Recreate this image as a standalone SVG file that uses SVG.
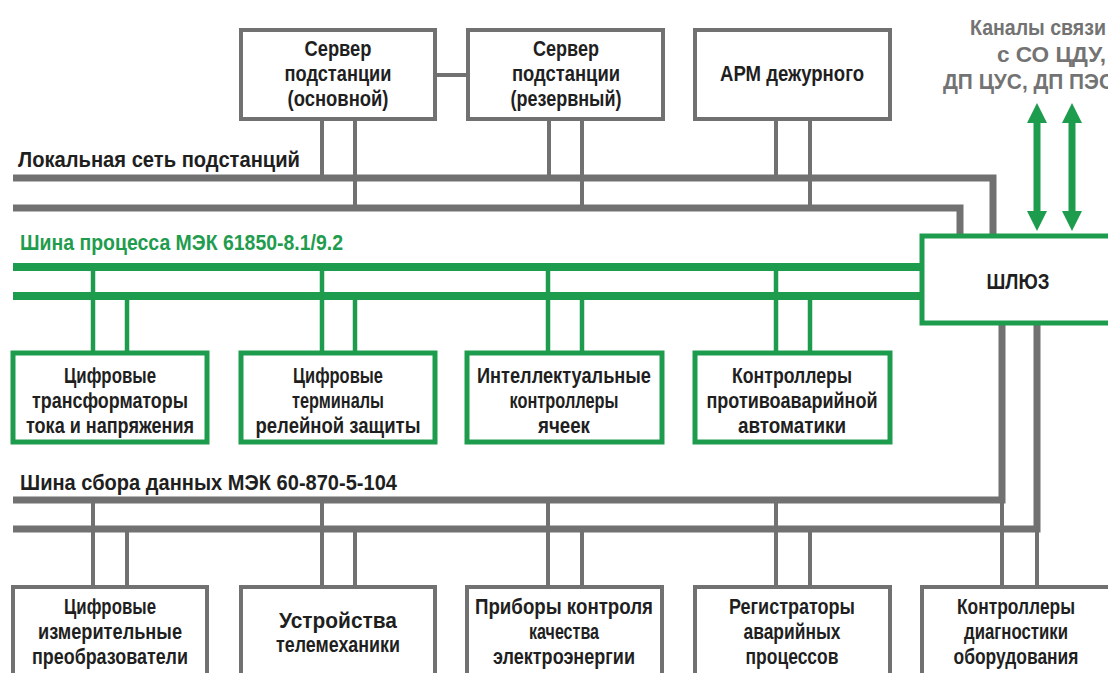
<svg xmlns="http://www.w3.org/2000/svg" xmlns:xlink="http://www.w3.org/1999/xlink" width="1108" height="673" viewBox="0 0 1108 673">
  <style>
    .box-g { fill: #ffffff; stroke: #717171; stroke-width: 4; }
    .box-n { fill: #ffffff; stroke: #1e9c4d; stroke-width: 5; }
    .bus-g { fill: none; stroke: #717171; stroke-width: 7; stroke-linejoin: miter; }
    .bus-n { fill: none; stroke: #1e9c4d; stroke-width: 8; }
    .tap-g { stroke: #717171; stroke-width: 4; }
    .tap-n { stroke: #1e9c4d; stroke-width: 4.5; }
    text { font-family: "Liberation Sans", Arial, sans-serif; font-weight: bold; }
    .t { font-size: 22.5px; fill: #1f1f1f; text-anchor: middle; }
    .lbl { font-size: 22px; fill: #1f1f1f; }
    .lbl-n { font-size: 22px; fill: #1f9c4e; }
    .ch { font-size: 22px; fill: #737373; text-anchor: end; }
  </style>
  <defs>
    <!-- double-headed channel arrow, centred on x = 0 -->
    <path id="dbl-arrow" d="M0,103 L10,123 L3.5,123 L3.5,211 L10,211 L0,231 L-10,211 L-3.5,211 L-3.5,123 L-10,123 Z" fill="#1e9c4d"/>
  </defs>
  <rect width="1108" height="673" fill="#ffffff"/>

  <!-- buses and taps -->
  <g id="connectors">
    <!-- station LAN -->
    <polyline class="bus-g" points="13,178 993,178 993,236"/>
    <polyline class="bus-g" points="13,208 960,208 960,236"/>
    <!-- process bus -->
    <line class="bus-n" x1="13" y1="267" x2="922" y2="267"/>
    <line class="bus-n" x1="13" y1="296" x2="922" y2="296"/>
    <!-- data acquisition bus -->
    <polyline class="bus-g" points="13,500 1002,500 1002,323"/>
    <polyline class="bus-g" points="13,529 1037,529 1037,323"/>

    <!-- server link -->
    <line class="tap-g" x1="435" y1="75" x2="468" y2="75"/>

    <!-- top row taps -->
    <line class="tap-g" x1="322" y1="119" x2="322" y2="178"/>
    <line class="tap-g" x1="355" y1="119" x2="355" y2="208"/>
    <line class="tap-g" x1="549" y1="119" x2="549" y2="178"/>
    <line class="tap-g" x1="582" y1="119" x2="582" y2="208"/>
    <line class="tap-g" x1="776" y1="119" x2="776" y2="178"/>
    <line class="tap-g" x1="810" y1="119" x2="810" y2="208"/>

    <!-- process bus taps -->
    <line class="tap-n" x1="93" y1="267" x2="93" y2="353"/>
    <line class="tap-n" x1="127" y1="296" x2="127" y2="353"/>
    <line class="tap-n" x1="322" y1="267" x2="322" y2="353"/>
    <line class="tap-n" x1="355" y1="296" x2="355" y2="353"/>
    <line class="tap-n" x1="548" y1="267" x2="548" y2="353"/>
    <line class="tap-n" x1="582" y1="296" x2="582" y2="353"/>
    <line class="tap-n" x1="776" y1="267" x2="776" y2="353"/>
    <line class="tap-n" x1="810" y1="296" x2="810" y2="353"/>

    <!-- data bus taps -->
    <line class="tap-g" x1="93" y1="500" x2="93" y2="587"/>
    <line class="tap-g" x1="127" y1="529" x2="127" y2="587"/>
    <line class="tap-g" x1="322" y1="500" x2="322" y2="587"/>
    <line class="tap-g" x1="355" y1="529" x2="355" y2="587"/>
    <line class="tap-g" x1="548" y1="500" x2="548" y2="587"/>
    <line class="tap-g" x1="582" y1="529" x2="582" y2="587"/>
    <line class="tap-g" x1="776" y1="500" x2="776" y2="587"/>
    <line class="tap-g" x1="810" y1="529" x2="810" y2="587"/>
    <line class="tap-g" x1="1002" y1="500" x2="1002" y2="587"/>
    <line class="tap-g" x1="1037" y1="529" x2="1037" y2="587"/>

    <!-- external channels -->
    <use xlink:href="#dbl-arrow" x="1037"/>
    <use xlink:href="#dbl-arrow" x="1072"/>
  </g>

  <!-- bus labels -->
  <g id="bus-labels">
    <text class="lbl" x="18" y="167" textLength="282" lengthAdjust="spacingAndGlyphs">Локальная сеть подстанций</text>
    <text class="lbl-n" x="20" y="250" textLength="323" lengthAdjust="spacingAndGlyphs">Шина процесса МЭК 61850-8.1/9.2</text>
    <text class="lbl" x="20" y="490" textLength="377" lengthAdjust="spacingAndGlyphs">Шина сбора данных МЭК 60-870-5-104</text>
  </g>

  <g id="channels-label">
    <text class="ch" x="1106" y="35" textLength="136" lengthAdjust="spacingAndGlyphs">Каналы связи</text>
    <text class="ch" x="1106" y="62" textLength="109" lengthAdjust="spacingAndGlyphs">с СО ЦДУ,</text>
    <text class="ch" x="1114" y="89" textLength="171" lengthAdjust="spacingAndGlyphs">ДП ЦУС, ДП ПЭС</text>
  </g>

  <!-- top row -->
  <g id="server-main">
    <rect class="box-g" x="241" y="30" width="194" height="89"/>
    <text class="t" x="338" y="56" textLength="67" lengthAdjust="spacingAndGlyphs">Сервер</text>
    <text class="t" x="338" y="80.5" textLength="107" lengthAdjust="spacingAndGlyphs">подстанции</text>
    <text class="t" x="338" y="106" textLength="101" lengthAdjust="spacingAndGlyphs">(основной)</text>
  </g>
  <g id="server-reserve">
    <rect class="box-g" x="468" y="30" width="195" height="89"/>
    <text class="t" x="566" y="56" textLength="66" lengthAdjust="spacingAndGlyphs">Сервер</text>
    <text class="t" x="566" y="80.5" textLength="108" lengthAdjust="spacingAndGlyphs">подстанции</text>
    <text class="t" x="566" y="106" textLength="111" lengthAdjust="spacingAndGlyphs">(резервный)</text>
  </g>
  <g id="arm">
    <rect class="box-g" x="695" y="30" width="195" height="89"/>
    <text class="t" x="792" y="81" textLength="144" lengthAdjust="spacingAndGlyphs">АРМ дежурного</text>
  </g>

  <!-- gateway -->
  <g id="gateway">
    <rect class="box-n" x="922" y="236" width="210" height="87"/>
    <text class="t" x="1018" y="289" textLength="63" lengthAdjust="spacingAndGlyphs">ШЛЮЗ</text>
  </g>

  <!-- process bus devices -->
  <g id="digital-ct-vt">
    <rect class="box-n" x="13" y="353" width="194" height="89"/>
    <text class="t" x="110" y="383" textLength="92" lengthAdjust="spacingAndGlyphs">Цифровые</text>
    <text class="t" x="110" y="407.5" textLength="156" lengthAdjust="spacingAndGlyphs">трансформаторы</text>
    <text class="t" x="110" y="433" textLength="168" lengthAdjust="spacingAndGlyphs">тока и напряжения</text>
  </g>
  <g id="relay-terminals">
    <rect class="box-n" x="241" y="353" width="194" height="89"/>
    <text class="t" x="338" y="383" textLength="90" lengthAdjust="spacingAndGlyphs">Цифровые</text>
    <text class="t" x="338" y="407.5" textLength="92" lengthAdjust="spacingAndGlyphs">терминалы</text>
    <text class="t" x="338" y="433" textLength="165" lengthAdjust="spacingAndGlyphs">релейной защиты</text>
  </g>
  <g id="bay-controllers">
    <rect class="box-n" x="467" y="353" width="195" height="89"/>
    <text class="t" x="564" y="383" textLength="174" lengthAdjust="spacingAndGlyphs">Интеллектуальные</text>
    <text class="t" x="564" y="407.5" textLength="109" lengthAdjust="spacingAndGlyphs">контроллеры</text>
    <text class="t" x="564" y="433" textLength="52" lengthAdjust="spacingAndGlyphs">ячеек</text>
  </g>
  <g id="emergency-automation">
    <rect class="box-n" x="695" y="353" width="195" height="89"/>
    <text class="t" x="792" y="383" textLength="120" lengthAdjust="spacingAndGlyphs">Контроллеры</text>
    <text class="t" x="792" y="407.5" textLength="171" lengthAdjust="spacingAndGlyphs">противоаварийной</text>
    <text class="t" x="792" y="433" textLength="108" lengthAdjust="spacingAndGlyphs">автоматики</text>
  </g>

  <!-- data bus devices -->
  <g id="measuring-transducers">
    <rect class="box-g" x="13" y="587" width="194" height="120"/>
    <text class="t" x="110" y="613.5" textLength="92" lengthAdjust="spacingAndGlyphs">Цифровые</text>
    <text class="t" x="110" y="638.5" textLength="144" lengthAdjust="spacingAndGlyphs">измерительные</text>
    <text class="t" x="110" y="664" textLength="156" lengthAdjust="spacingAndGlyphs">преобразователи</text>
  </g>
  <g id="telemechanics">
    <rect class="box-g" x="241" y="587" width="194" height="120"/>
    <text class="t" x="338" y="627.5" textLength="118" lengthAdjust="spacingAndGlyphs">Устройства</text>
    <text class="t" x="338" y="652" textLength="124" lengthAdjust="spacingAndGlyphs">телемеханики</text>
  </g>
  <g id="power-quality">
    <rect class="box-g" x="467" y="587" width="195" height="120"/>
    <text class="t" x="564" y="613.5" textLength="178" lengthAdjust="spacingAndGlyphs">Приборы контроля</text>
    <text class="t" x="564" y="638.5" textLength="70" lengthAdjust="spacingAndGlyphs">качества</text>
    <text class="t" x="564" y="664" textLength="142" lengthAdjust="spacingAndGlyphs">электроэнергии</text>
  </g>
  <g id="fault-recorders">
    <rect class="box-g" x="695" y="587" width="195" height="120"/>
    <text class="t" x="792" y="613.5" textLength="126" lengthAdjust="spacingAndGlyphs">Регистраторы</text>
    <text class="t" x="792" y="638.5" textLength="97" lengthAdjust="spacingAndGlyphs">аварийных</text>
    <text class="t" x="792" y="664" textLength="93" lengthAdjust="spacingAndGlyphs">процессов</text>
  </g>
  <g id="diagnostics">
    <rect class="box-g" x="922" y="587" width="210" height="120"/>
    <text class="t" x="1016" y="613.5" textLength="118" lengthAdjust="spacingAndGlyphs">Контроллеры</text>
    <text class="t" x="1016" y="638.5" textLength="104" lengthAdjust="spacingAndGlyphs">диагностики</text>
    <text class="t" x="1016" y="664" textLength="125" lengthAdjust="spacingAndGlyphs">оборудования</text>
  </g>
</svg>
